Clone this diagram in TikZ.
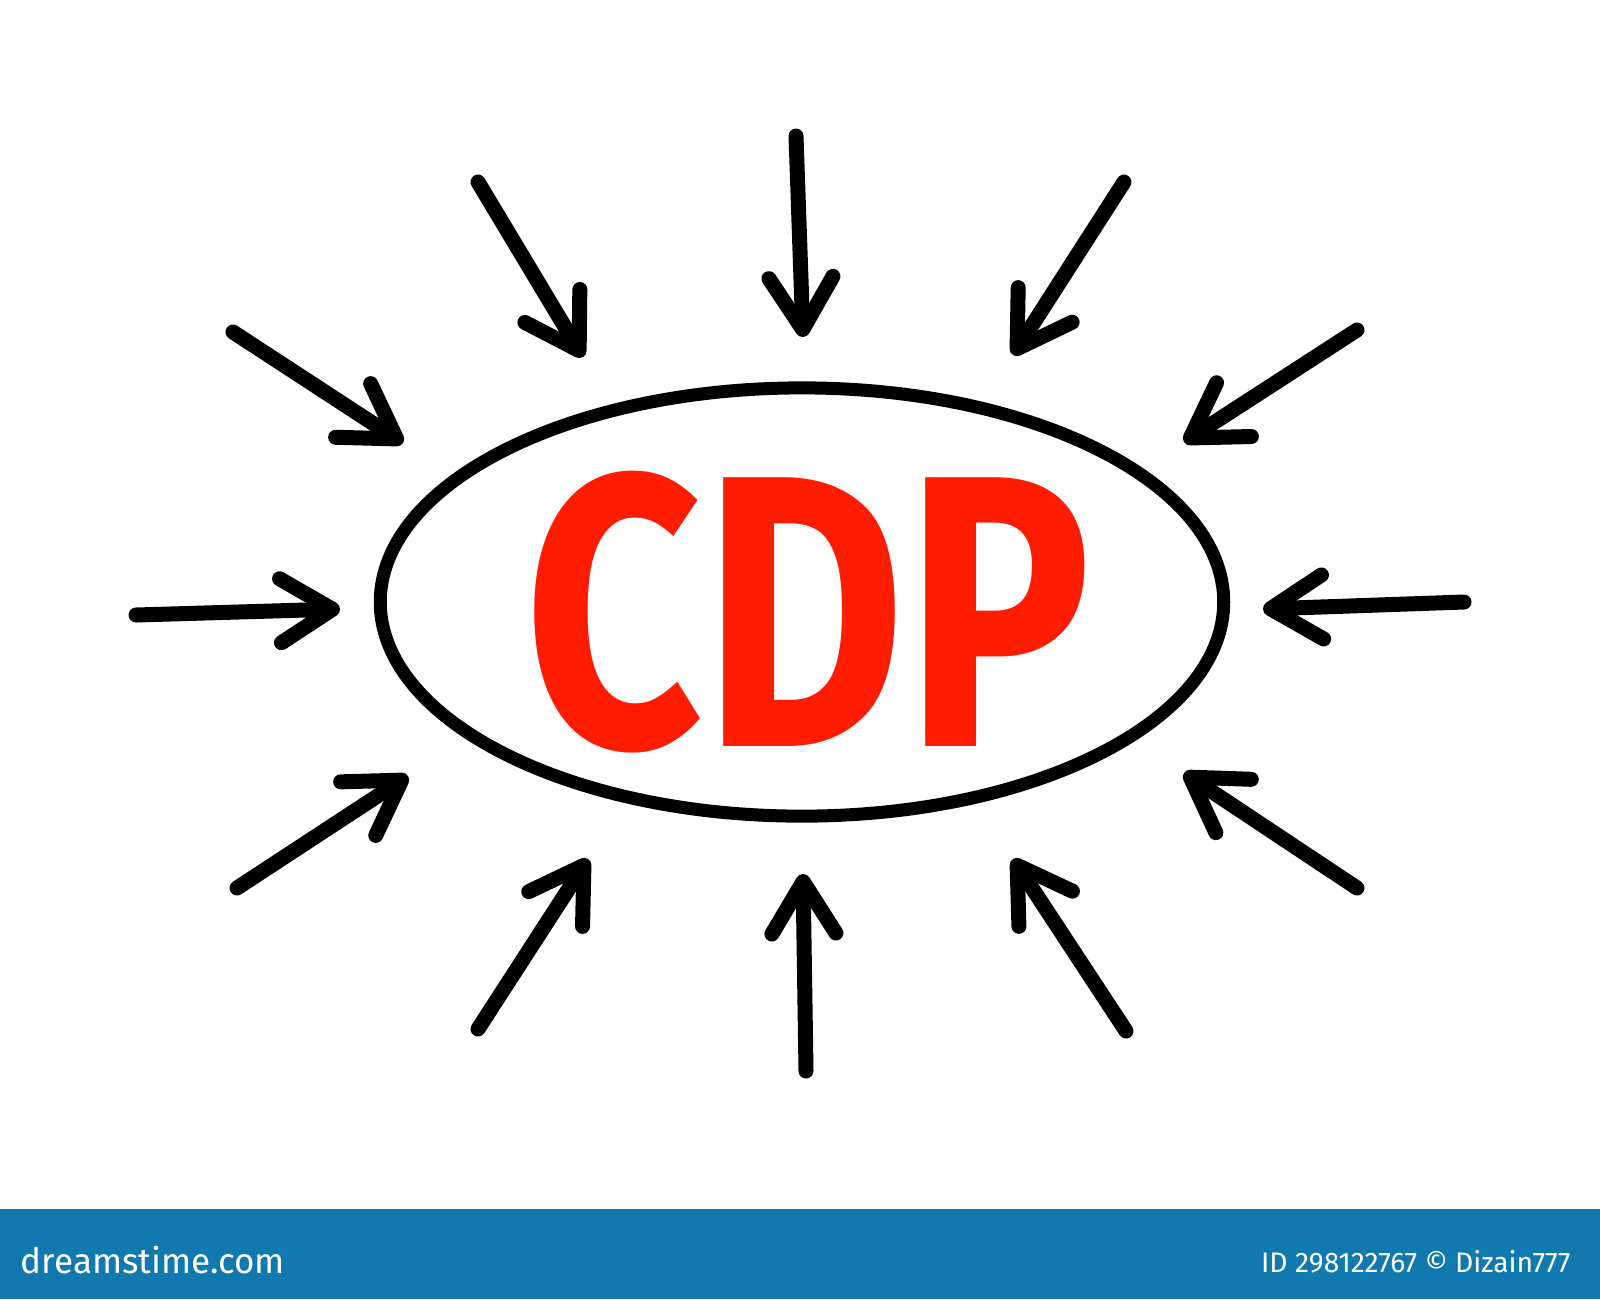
\documentclass[tikz,border=0pt]{standalone}
\usepackage{fontspec}
\setmainfont{Fira Sans}
\usetikzlibrary{arrows.meta,shapes.geometric}
\definecolor{cdpred}{RGB}{255,28,0}
\definecolor{barblue}{RGB}{16,121,176}
\newcommand{\pxl}{0.01cm}

\begin{document}
\begin{tikzpicture}[x=\pxl, y=-\pxl,
    ray/.style={line width=0.15cm, line cap=round, -{Straight Barb[length=0.52cm, width=0.64cm, round]}},
    oval/.style={draw, ellipse, line width=0.13cm, minimum width=8.43cm, minimum height=4.28cm, inner sep=0pt}]
    \useasboundingbox (0,0) rectangle (1600,1299);

    % Ring and letters
    \node[oval] (ring) at (802,602) {};
    \node[text=cdpred, inner sep=0pt] (cdp) at (808,612) {\resizebox{5.66cm}{2.75cm}{\bfseries CDP}};

    % Upper arrows
    \coordinate (tl-tail) at (478,182);   \coordinate (tl-tip) at (583,357);
    \coordinate (t-tail) at (796,136);    \coordinate (t-tip) at (803,337);
    \coordinate (tr-tail) at (1124,182);  \coordinate (tr-tip) at (1013,355);
    \coordinate (ul-tail) at (233,332);   \coordinate (ul-tip) at (403,443);
    \coordinate (ur-tail) at (1357,330);  \coordinate (ur-tip) at (1184,442);

    % Side arrows
    \coordinate (l-tail) at (136,615);    \coordinate (l-tip) at (340,609);
    \coordinate (r-tail) at (1464,602);   \coordinate (r-tip) at (1263,609);

    % Lower arrows
    \coordinate (ll-tail) at (237,888);   \coordinate (ll-tip) at (408,776);
    \coordinate (lr-tail) at (1357,888);  \coordinate (lr-tip) at (1184,773);
    \coordinate (bl-tail) at (478,1029);  \coordinate (bl-tip) at (588,859);
    \coordinate (b-tail) at (806,1071);   \coordinate (b-tip) at (803,874);
    \coordinate (br-tail) at (1126,1031); \coordinate (br-tip) at (1013,859);

    \draw[ray] (tl-tail) -- (tl-tip);
    \draw[ray] (t-tail) -- (t-tip);
    \draw[ray] (tr-tail) -- (tr-tip);
    \draw[ray] (ul-tail) -- (ul-tip);
    \draw[ray] (ur-tail) -- (ur-tip);
    \draw[ray] (l-tail) -- (l-tip);
    \draw[ray] (r-tail) -- (r-tip);
    \draw[ray] (ll-tail) -- (ll-tip);
    \draw[ray] (lr-tail) -- (lr-tip);
    \draw[ray] (bl-tail) -- (bl-tip);
    \draw[ray] (b-tail) -- (b-tip);
    \draw[ray] (br-tail) -- (br-tip);

    % Footer bar
    \fill[barblue] (0,1209) rectangle (1600,1299);
    \node[text=white, anchor=west, inner sep=0pt] (site) at (20,1260) {\resizebox{2.64cm}{!}{dreamstime.com}};
    \node[text=white, anchor=east, inner sep=0pt] (credit) at (1571,1262) {\resizebox{3.09cm}{!}{ID 298122767 © Dizain777}};

\end{tikzpicture}
\end{document}
